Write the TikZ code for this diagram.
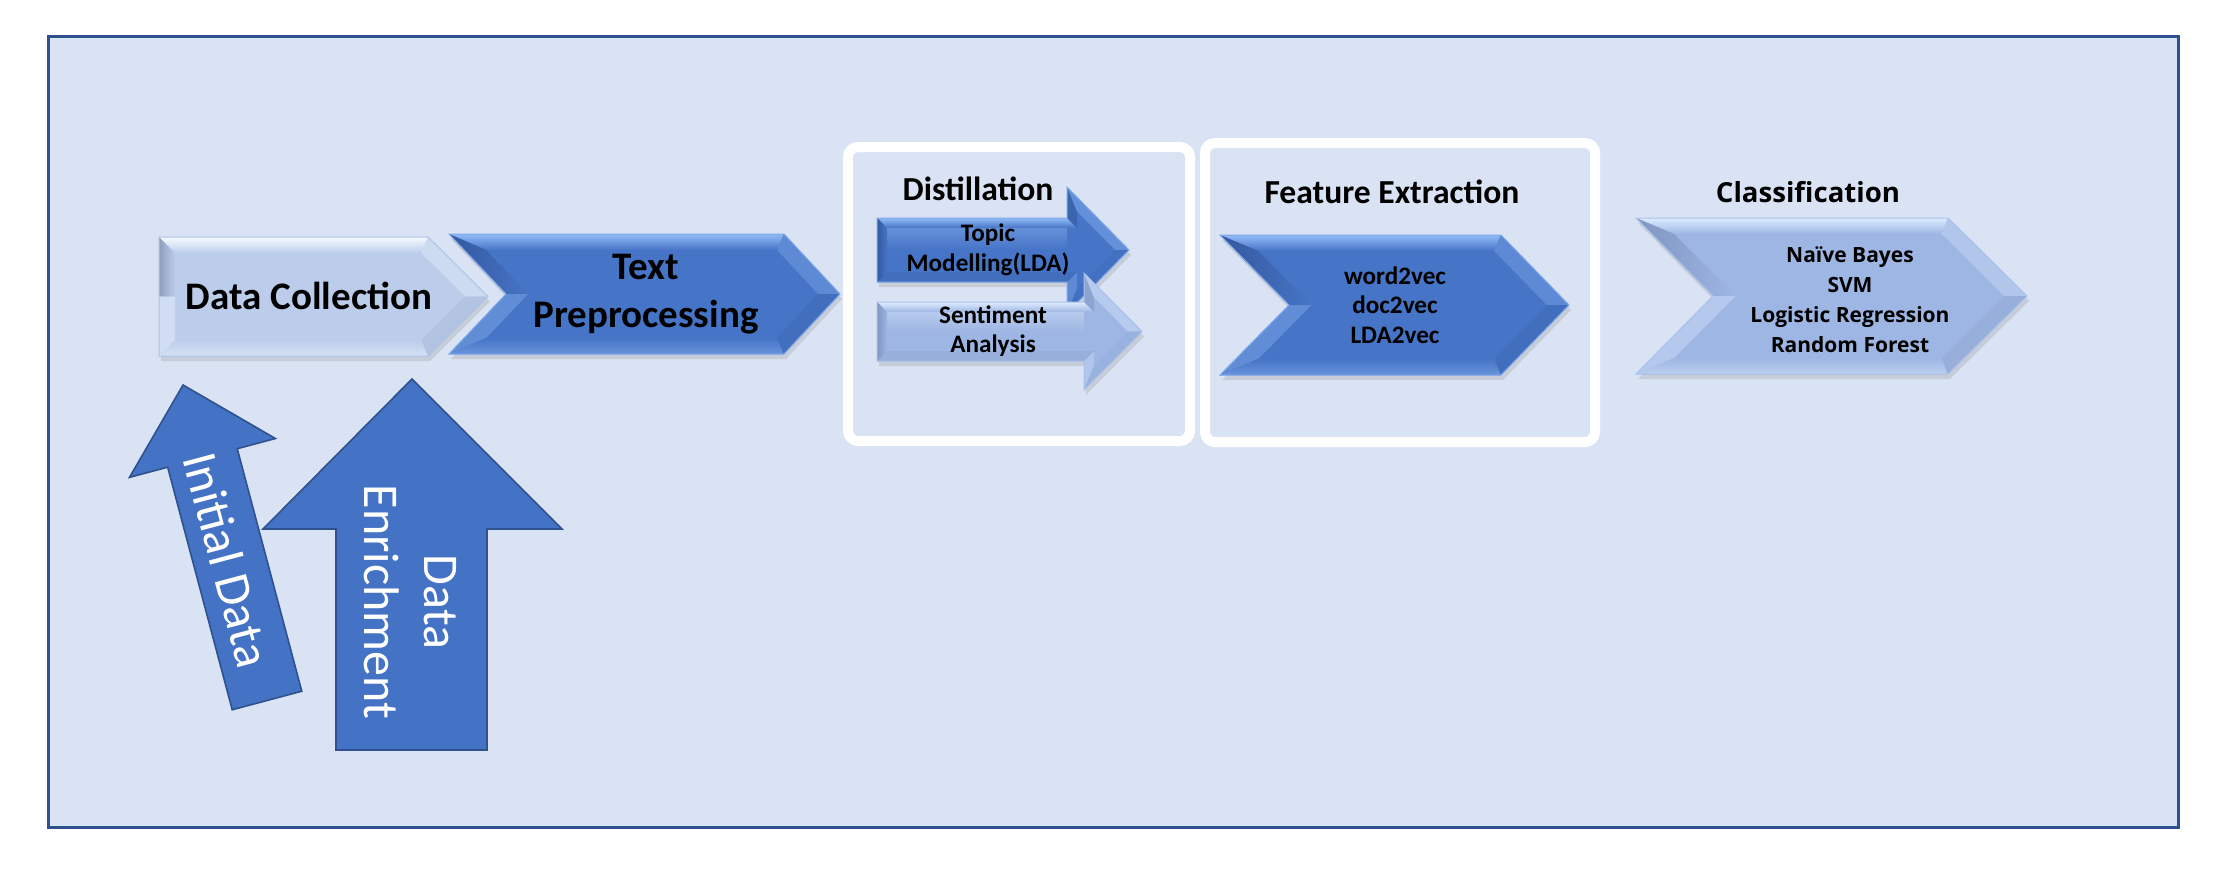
\documentclass[tikz,border=0pt]{standalone}
\usepackage{fontspec}
\setmainfont{Carlito}
\newfontfamily\uifont{Open Sans}
\usepackage{tikz}
\usetikzlibrary{calc,shadows}
\definecolor{Frame}{HTML}{2F528F}
\definecolor{Paper}{HTML}{DAE3F3}
\definecolor{Flat}{HTML}{4472C4}
% bevel colour sets: Face, Hi, Lo, Edge
\definecolor{DkFace}{HTML}{4674C6}
\definecolor{DkHi}{HTML}{92BBF7}
\definecolor{DkLo}{HTML}{34589E}
\definecolor{DkEdge}{HTML}{7EA7EC}
\definecolor{LtFace}{HTML}{BCCDEB}
\definecolor{LtHi}{HTML}{F6FAFF}
\definecolor{LtLo}{HTML}{8E9DBC}
\definecolor{LtEdge}{HTML}{AFC3E6}
\definecolor{MdFace}{HTML}{9EB6E3}
\definecolor{MdHi}{HTML}{DDECFF}
\definecolor{MdLo}{HTML}{7F95C2}
\definecolor{MdEdge}{HTML}{A8C0EA}
\newcommand\bev{16}
\newcommand\sbev{10}
% chevron: left, notch, shoulder, tip, top, bottom, colour set
\newcommand\chevbox[7]{%
  \pgfmathsetmacro\cvM{(#5+#6)/2}
  \pgfmathsetmacro\cvA{(#2-#1)/((#6-#5)/2)}
  \pgfmathsetmacro\cvB{(#4-#3)/((#6-#5)/2)}
  \pgfmathsetmacro\cvL{#1+\bev*\cvA+\bev*sqrt(1+\cvA*\cvA)}
  \pgfmathsetmacro\cvN{#2+\bev*sqrt(1+\cvA*\cvA)}
  \pgfmathsetmacro\cvS{#3+\bev*\cvB-\bev*sqrt(1+\cvB*\cvB)}
  \pgfmathsetmacro\cvP{#4-\bev*sqrt(1+\cvB*\cvB)}
  \fill[#7Face,drop shadow={opacity=.22,shadow xshift=1pt,shadow yshift=-2.5pt}]
    (#1,#5)--(#3,#5)--(#4,\cvM)--(#3,#6)--(#1,#6)--(#2,\cvM)--cycle;
  \shade[top color=#7Hi,bottom color=#7Face] (#1,#5)--(#3,#5)--(\cvS,#5+\bev)--(\cvL,#5+\bev)--cycle;
  \shade[left color=#7Lo,right color=#7Face] (#1,#5)--(\cvL,#5+\bev)--(\cvN,\cvM)--(#2,\cvM)--cycle;
  \fill[#7Hi!35!#7Face] (#2,\cvM)--(\cvN,\cvM)--(\cvL,#6-\bev)--(#1,#6)--cycle;
  \shade[top color=#7Face,bottom color=#7Hi!45!#7Face] (#1,#6)--(\cvL,#6-\bev)--(\cvS,#6-\bev)--(#3,#6)--cycle;
  \fill[#7Hi!30!#7Face] (#3,#5)--(#4,\cvM)--(\cvP,\cvM)--(\cvS,#5+\bev)--cycle;
  \fill[#7Lo!20!#7Face] (#4,\cvM)--(#3,#6)--(\cvS,#6-\bev)--(\cvP,\cvM)--cycle;
  \draw[#7Edge,line width=.5pt] (#1,#5)--(#3,#5)--(#4,\cvM)--(#3,#6)--(#1,#6)--(#2,\cvM)--cycle;
}
% block arrow: left, shoulder, tip, top, bottom, half head, colour set
\newcommand\barrowbox[7]{%
  \pgfmathsetmacro\baM{(#4+#5)/2}
  \pgfmathsetmacro\baT{\baM-#6}
  \pgfmathsetmacro\baB{\baM+#6}
  \pgfmathsetmacro\baC{(#3-#2)/#6}
  \pgfmathsetmacro\baK{\sbev*(1+sqrt(1+\baC*\baC))/\baC}
  \pgfmathsetmacro\baE{#3-\sbev*sqrt(1+\baC*\baC)}
  \fill[#7Face,drop shadow={opacity=.22,shadow xshift=1pt,shadow yshift=-2.5pt}]
    (#1,#4)--(#2,#4)--(#2,\baT)--(#3,\baM)--(#2,\baB)--(#2,#5)--(#1,#5)--cycle;
  \shade[top color=#7Hi!60!#7Face,bottom color=#7Face] (#1,#4) rectangle (#2,\baM);
  \shade[top color=#7Hi,bottom color=#7Face] (#1,#4)--(#2,#4)--(#2+\sbev,#4+\sbev)--(#1+\sbev,#4+\sbev)--cycle;
  \fill[#7Lo!55!#7Face] (#2,#4)--(#2,\baT)--(#2+\sbev,\baT+\baK)--(#2+\sbev,#4+\sbev)--cycle;
  \fill[#7Hi!40!#7Face] (#2,\baT)--(#3,\baM)--(\baE,\baM)--(#2+\sbev,\baT+\baK)--cycle;
  \fill[#7Hi!30!#7Face] (#2,\baB)--(#2,#5)--(#2+\sbev,#5-\sbev)--(#2+\sbev,\baB-\baK)--cycle;
  \fill[#7Lo!15!#7Face] (#3,\baM)--(#2,\baB)--(#2+\sbev,\baB-\baK)--(\baE,\baM)--cycle;
  \fill[#7Lo!20!#7Face] (#2,#5)--(#1,#5)--(#1+\sbev,#5-\sbev)--(#2+\sbev,#5-\sbev)--cycle;
  \shade[left color=#7Lo,right color=#7Face] (#1,#5)--(#1,#4)--(#1+\sbev,#4+\sbev)--(#1+\sbev,#5-\sbev)--cycle;
  \draw[#7Edge,line width=.5pt] (#1,#4)--(#2,#4)--(#2,\baT)--(#3,\baM)--(#2,\baB)--(#2,#5)--(#1,#5)--cycle;
}

\begin{document}
\begin{tikzpicture}[x=0.5pt,y=-0.5pt,
  ttl/.style={font=\bfseries\fontsize{16.8}{20}\selectfont},
  sub/.style={font=\bfseries\fontsize{12.6}{14.8}\selectfont,align=center},
  bigtxt/.style={font=\bfseries\fontsize{19.5}{24}\selectfont,align=center},
  upshape/.style={fill=Flat,draw=Frame,line width=.8pt,line join=miter},
  uptxt/.style={text=white,font=\fontsize{25}{30}\selectfont,align=center},
  panel/.style={draw=white,line width=5pt,rounded corners=5pt}]
\useasboundingbox (0,0) rectangle (2229,889);
\draw[Frame,fill=Paper,line width=1.5pt] (48,36) rectangle (2178,827);
\draw[panel] (848,147) rectangle (1190,441);
\draw[panel] (1205,143) rectangle (1595,442);
% pipeline stages
\chevbox{159}{159}{428}{488}{237}{356}{Lt}
\chevbox{449}{506}{784}{840}{234}{354}{Dk}
\barrowbox{877}{1067}{1129}{218}{282}{63}{Dk}
\barrowbox{877}{1084}{1142}{302}{361}{58.5}{Md}
\chevbox{1220}{1289}{1501}{1569}{235}{375}{Dk}
\chevbox{1636}{1713}{1948}{2027}{218}{374}{Md}
\node[bigtxt] (collect) at (309,296) {Data Collection};
\node[bigtxt] (prep) at (646,294) {Text\\Preprocessing};
\node[ttl] (distil) at (978,189) {Distillation};
\node[sub] (topic) at (988,250) {Topic\\Modelling(LDA)};
\node[sub] (senti) at (993,331) {Sentiment\\Analysis};
\node[ttl] (feat) at (1392,192) {Feature Extraction};
\node[sub] (vecs) at (1395,305) {word2vec\\doc2vec\\LDA2vec};
\node[font=\uifont\bfseries\fontsize{13.8}{16}\selectfont] (classif) at (1808,192) {Classification};
\node[font=\uifont\bfseries\fontsize{10.5}{15}\selectfont,align=center] (models) at (1850,300) {Naïve Bayes\\SVM\\Logistic Regression\\Random Forest};
% inputs
\begin{scope}[shift={(267,700.5)},rotate=14.9]
\draw[upshape] (-36,0)--(-36,-251)--(-75.5,-251)--(0,-326.5)--(75.5,-251)--(36,-251)--(36,0)--cycle;
\end{scope}
\draw[upshape] (336,750)--(336,529)--(263,529)--(412,379)--(562,529)--(487,529)--(487,750)--cycle;
\node[uptxt,rotate=-75.1] (initial) at (227,560) {Initial Data};
\node[uptxt,rotate=-90] (enrich) at (410,602) {Data\\Enrichment};
\end{tikzpicture}
\end{document}
